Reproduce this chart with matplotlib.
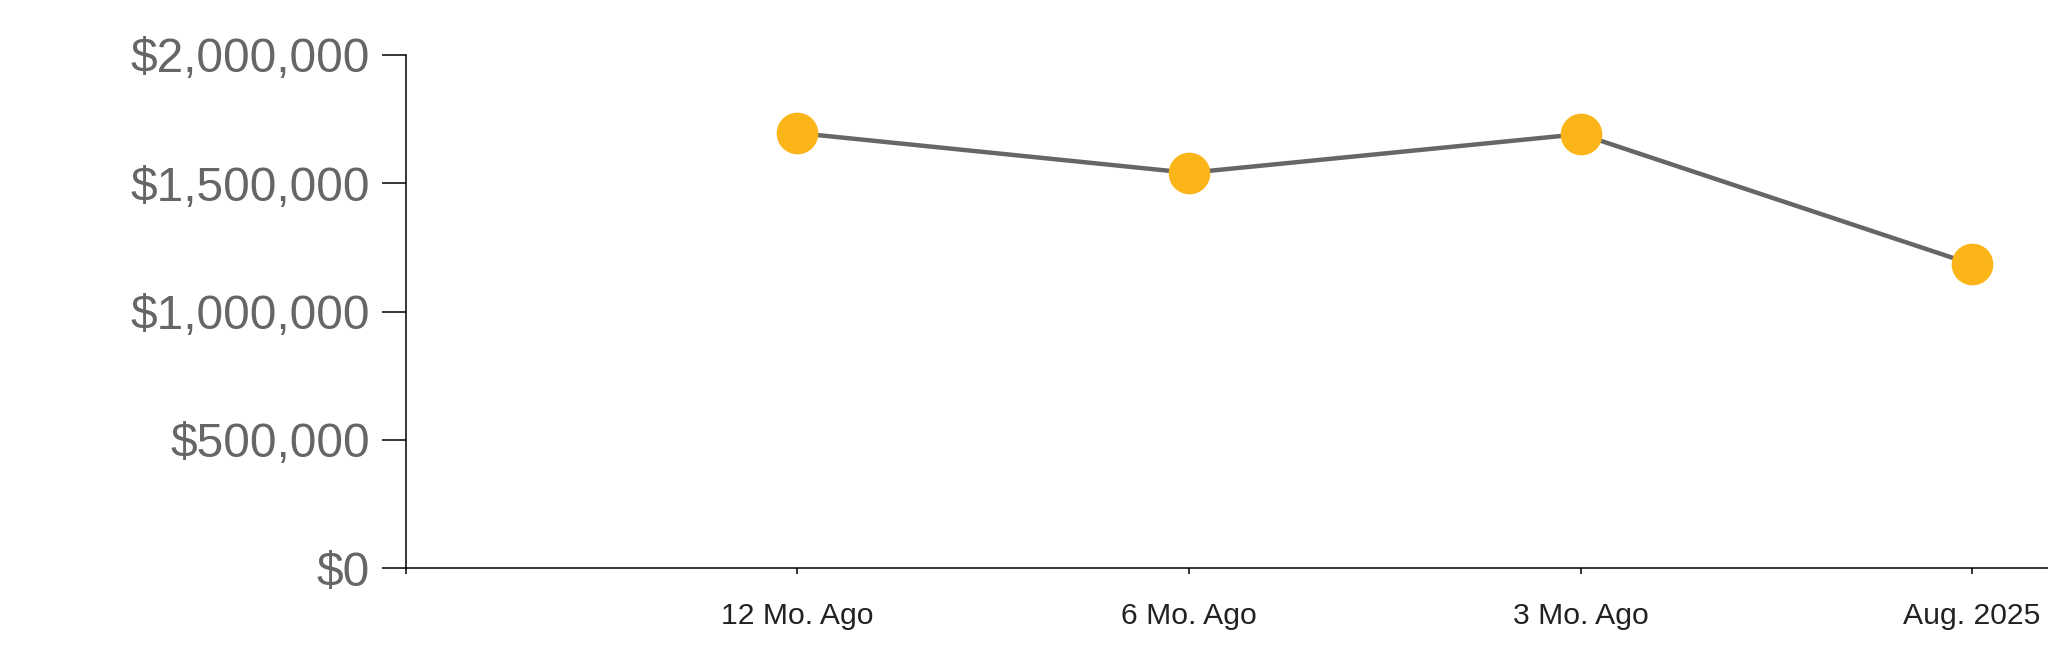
import matplotlib.pyplot as plt
from matplotlib.ticker import FuncFormatter

# values
labels = ['12 Mo. Ago', '6 Mo. Ago', '3 Mo. Ago', 'Aug. 2025']
values = [1695000, 1540000, 1691000, 1184000]
y_ticks = [0, 500000, 1000000, 1500000, 2000000]

plt.rcParams['font.family'] = ['Liberation Sans', 'DejaVu Sans']

fig = plt.figure(figsize=(20.48, 6.63), dpi=100)
ax = fig.add_axes([0.1982, 0.1428, 0.8018, 0.7747])

x = list(range(1, len(labels) + 1))
ax.plot(x, values, color='#666666', lw=3.2, zorder=2)
ax.plot(x, values, 'o', color='#FBB518', ms=30, mec='none', zorder=3, clip_on=False)

ax.set_xlim(0, 4.194)
ax.set_ylim(0, 2000000)
ax.set_xticks([0] + x)
ax.set_xticklabels([''] + labels)
ax.set_yticks(y_ticks)
ax.yaxis.set_major_formatter(FuncFormatter(lambda v, p: '${:,.0f}'.format(v)))

for s in ['top', 'right']:
    ax.spines[s].set_visible(False)
for s in ['left', 'bottom']:
    ax.spines[s].set_linewidth(1.1)
    ax.spines[s].set_color('black')

ax.tick_params(axis='y', length=17, width=1.1, pad=9, labelsize=34.5, labelcolor='#666666')
ax.tick_params(axis='x', length=4.5, width=1.1, pad=20, labelsize=21.7, labelcolor='#222222')

fig.savefig('out.png', dpi=100)
